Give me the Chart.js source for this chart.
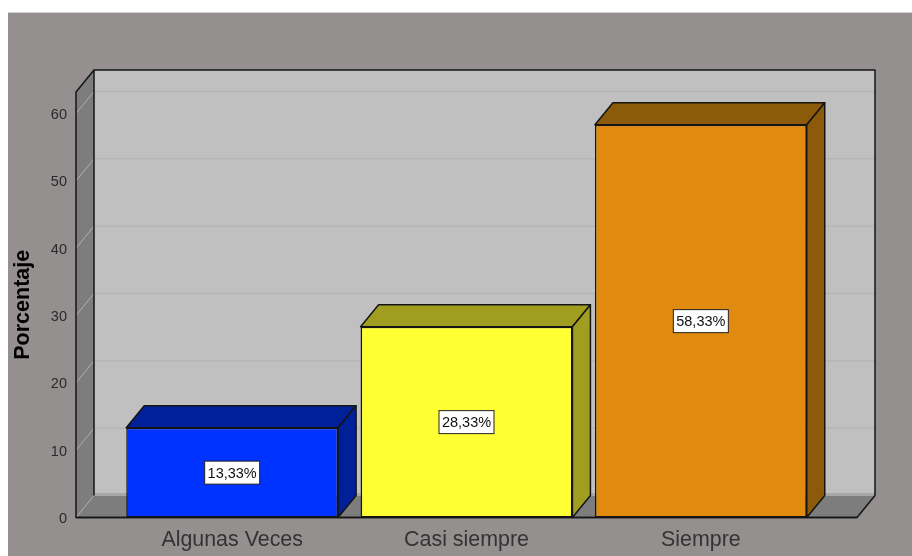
<!DOCTYPE html>
<html><head><meta charset="utf-8">
<style>html,body{margin:0;padding:0;background:#fff}canvas{display:block;filter:blur(0.35px)}</style>
<script src="https://cdn.jsdelivr.net/npm/chart.js@4"></script>
</head><body><canvas id="c" width="912" height="556"></canvas>
<script>
const categories = ["Algunas Veces", "Casi siempre", "Siempre"];
const values = [13.33, 28.33, 58.33];
const valueLabels = ["13,33%", "28,33%", "58,33%"];
const yTicks = [0, 10, 20, 30, 40, 50, 60];
const frontColors = ["#0033ff", "#ffff33", "#e08a10"];
const sideColors = ["#00209a", "#a09e20", "#8b5a0a"];
const DX = 18, DY = 22, MARGIN = 39, PLOT_BOTTOM = 517.5;
const FONT = '"Liberation Sans", Arial, sans-serif';

function poly(ctx, pts, fill, stroke, lw) {
  ctx.beginPath();
  pts.forEach((p, i) => i ? ctx.lineTo(p[0], p[1]) : ctx.moveTo(p[0], p[1]));
  ctx.closePath();
  if (fill) { ctx.fillStyle = fill; ctx.fill(); }
  if (stroke) { ctx.strokeStyle = stroke; ctx.lineWidth = lw || 1; ctx.stroke(); }
}
function line(ctx, x1, y1, x2, y2, color, lw) {
  ctx.beginPath(); ctx.moveTo(x1, y1); ctx.lineTo(x2, y2);
  ctx.strokeStyle = color; ctx.lineWidth = lw || 1; ctx.stroke();
}

const box3d = {
  id: "box3d",
  afterLayout(chart) {
    const a = chart.chartArea, x = chart.scales.x, y = chart.scales.y;
    a.bottom = PLOT_BOTTOM; a.height = a.bottom - a.top;
    y.bottom = PLOT_BOTTOM; y.height = y.bottom - y.top; y.configure(); y._labelItems = null;
    x.top = PLOT_BOTTOM; x.bottom = chart.height; x.height = x.bottom - x.top; x._labelItems = null;
  },
  beforeDraw(chart) {
    const c = chart.ctx;
    c.save();
    c.fillStyle = "#959090";
    c.fillRect(8, 13, chart.width - 8, chart.height - 13);
    c.fillStyle = "#d4d2d2";
    c.fillRect(8, 12, chart.width - 8, 1);
    c.restore();
  },
  beforeDatasetsDraw(chart) {
    const c = chart.ctx, a = chart.chartArea, y = chart.scales.y;
    const L = a.left - MARGIN, R = a.right + MARGIN, T = a.top, B = y.getPixelForValue(0);
    c.save();
    // back wall
    poly(c, [[L + DX, T - DY], [R + DX, T - DY], [R + DX, B - DY], [L + DX, B - DY]], "#c0c0c0");
    // left wall
    poly(c, [[L, T], [L + DX, T - DY], [L + DX, B - DY], [L, B]], "#7d7d7d");
    // floor
    poly(c, [[L, B], [L + DX, B - DY], [R + DX, B - DY], [R, B]], "#7d7d7d");
    line(c, L + DX, B - DY - 1, R + DX, B - DY - 1, "#a8a7a7", 3);
    // grid lines on walls
    yTicks.forEach(v => {
      const p = y.getPixelForValue(v);
      if (v > 0) line(c, L + DX, p - DY, R + DX, p - DY, "#b6b5b4", 1.5);
      line(c, L, p, L + DX, p - DY, "#b0b0b0", 1);
    });
    // frame
    line(c, L + DX, T - DY, L + DX, B - DY, "#151515", 1.5);
    c.lineJoin = "round";
    poly(c, [[L, B], [L, T], [L + DX, T - DY], [R + DX, T - DY], [R + DX, B - DY], [R, B]], null, "#151515", 1.5);
    // bar depth faces
    chart.getDatasetMeta(0).data.forEach((el, i) => {
      const l = el.x - el.width / 2, r = el.x + el.width / 2, t = el.y, b = el.base;
      poly(c, [[l, t], [l + DX, t - DY], [r + DX, t - DY], [r, t]], sideColors[i], "#151515", 1.5);
      poly(c, [[r, t], [r + DX, t - DY], [r + DX, b - DY], [r, b]], sideColors[i], "#151515", 1.5);
    });
    c.restore();
  },
  afterDatasetsDraw(chart) {
    const c = chart.ctx, a = chart.chartArea, y = chart.scales.y;
    c.save();
    const B = y.getPixelForValue(0);
    line(c, a.left - MARGIN, B, a.right + MARGIN, B, "#151515", 1.5);
    c.font = "14.5px " + FONT;
    c.textAlign = "center"; c.textBaseline = "middle";
    chart.getDatasetMeta(0).data.forEach((el, i) => {
      const cy = (el.y + el.base) / 2, h = 23, w = 55;
      c.fillStyle = "#fff"; c.strokeStyle = "#222"; c.lineWidth = 1;
      c.fillRect(el.x - w / 2, cy - h / 2, w, h);
      c.strokeRect(el.x - w / 2, cy - h / 2, w, h);
      c.fillStyle = "#111";
      c.fillText(valueLabels[i], el.x, cy + 1);
    });
    c.restore();
  }
};

new Chart(document.getElementById("c"), {
  type: "bar",
  plugins: [box3d],
  data: {
    labels: categories,
    datasets: [{
      data: values,
      backgroundColor: frontColors,
      borderColor: "#151515",
      borderWidth: 1.5,
      borderSkipped: false,
      categoryPercentage: 1,
      barPercentage: 0.904
    }]
  },
  options: {
    responsive: false,
    animation: false,
    layout: { autoPadding: false, padding: { top: 92, right: 94, left: 0, bottom: 0 } },
    plugins: { legend: { display: false }, tooltip: { enabled: false } },
    scales: {
      x: {
        grid: { display: false }, border: { display: false },
        ticks: { color: "#333", font: { family: FONT, size: 21.4 }, padding: 1.5, maxRotation: 0 },
        afterFit(s) { s.height = 38.5; }
      },
      y: {
        min: 0, max: 63.2,
        grid: { display: false }, border: { display: false },
        afterBuildTicks(s) { s.ticks = yTicks.map(v => ({ value: v })); },
        afterFit(s) { s.width = 115; },
        ticks: { color: "#2a2a2a", font: { family: FONT, size: 14.5 }, padding: 40, labelOffset: 1.5 },
        title: { display: true, text: "Porcentaje", color: "#000",
          font: { family: FONT, size: 21.5, weight: "bold" }, padding: { top: 10, bottom: 0 } }
      }
    }
  }
});
</script></body></html>
